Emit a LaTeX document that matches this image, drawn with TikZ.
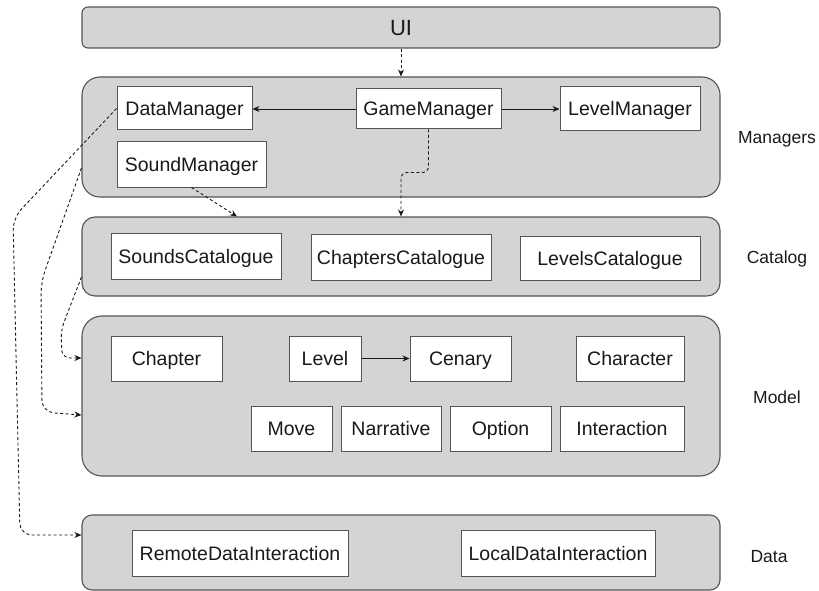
\documentclass[tikz,border=0pt]{standalone}
\usepackage{fontspec}
\setmainfont{Liberation Sans}
\usetikzlibrary{arrows.meta,calc}
\definecolor{layerfill}{RGB}{212,212,212}
\definecolor{edgegray}{RGB}{85,85,85}
\definecolor{inkgray}{RGB}{25,25,25}

\begin{document}
\begin{tikzpicture}[x=1pt,y=-1pt,
  layer/.style={draw=edgegray, fill=layerfill, line width=1.1pt, minimum width=638pt, inner sep=0pt},
  comp/.style={draw=edgegray, fill=white, line width=1pt, inner sep=0pt, text=inkgray,
    font=\fontsize{19.5}{21}\selectfont, text height=14pt, text depth=0pt},
  tag/.style={text=inkgray, inner sep=0pt, font=\fontsize{17.5}{20}\selectfont, text height=12.5pt, text depth=0pt},
  link/.style={draw=inkgray, line width=0.9pt, -{Stealth[length=7pt,width=6pt]}},
  deplink/.style={link, dash pattern=on 3pt off 2.5pt},
]
\useasboundingbox (0,0) rectangle (819,591);

% layers
\node[layer, rounded corners=6pt, minimum height=41pt, text=inkgray,
      font=\fontsize{22}{24}\selectfont, text height=15.8pt, text depth=0pt] (ui) at (401,27.5) {UI};
\node[layer, rounded corners=18pt, minimum height=120pt] (mgr) at (401,137) {};
\node[layer, rounded corners=13pt, minimum height=79pt] (cat) at (401,256.5) {};
\node[layer, rounded corners=20pt, minimum height=160pt] (model) at (401,396) {};
\node[layer, rounded corners=10pt, minimum height=75pt] (data) at (401,552.5) {};

% layer captions
\node[tag] (tmgr) at (777,137.5) {Managers};
\node[tag] (tcat) at (777,257) {Catalog};
\node[tag] (tmodel) at (777,397) {Model};
\node[tag] (tdata) at (769,556) {Data};

% managers
\node[comp, minimum width=135pt, minimum height=43pt] (dm) at (184.5,108.5) {DataManager};
\node[comp, minimum width=149pt, minimum height=45pt] (sm) at (191.5,164.5) {SoundManager};
\node[comp, minimum width=145pt, minimum height=40pt] (gm) at (428.5,109) {GameManager};
\node[comp, minimum width=140pt, minimum height=44pt] (lm) at (630,109) {LevelManager};

% catalogues
\node[comp, minimum width=170pt, minimum height=46pt] (sc) at (196,256) {SoundsCatalogue};
\node[comp, minimum width=180pt, minimum height=46pt] (cc) at (401,257) {ChaptersCatalogue};
\node[comp, minimum width=180pt, minimum height=44pt] (lc) at (610,258) {LevelsCatalogue};

% model
\node[comp, minimum width=111pt, minimum height=45pt] (chap) at (166.5,358.5) {Chapter};
\node[comp, minimum width=72pt, minimum height=45pt] (lvl) at (325,358.5) {Level};
\node[comp, minimum width=101pt, minimum height=45pt] (cen) at (460.5,358.5) {Cenary};
\node[comp, minimum width=108pt, minimum height=45pt] (chr) at (630,358.5) {Character};
\node[comp, minimum width=81pt, minimum height=45pt] (mv) at (291.5,428.5) {Move};
\node[comp, minimum width=100pt, minimum height=45pt] (nar) at (391,428.5) {Narrative};
\node[comp, minimum width=101pt, minimum height=45pt] (opt) at (500.5,428.5) {Option};
\node[comp, minimum width=124pt, minimum height=45pt] (inter) at (622,428.5) {Interaction};

% data
\node[comp, minimum width=216pt, minimum height=46pt] (rdi) at (240,553) {RemoteDataInteraction};
\node[comp, minimum width=194pt, minimum height=46pt] (ldi) at (558,553) {LocalDataInteraction};

% connectors
\draw[deplink] (ui.south) -- (mgr.north);
\draw[link] (gm.west) -- (gm.west -| dm.east);
\draw[link] (gm.east) -- (lm.west);
\draw[link] (lvl.east) -- (cen.west);
\draw[deplink, rounded corners=6pt] (gm.south) -- ++(0,43) -| (cat.north);
\draw[deplink] (sm.south) -- (cat.north -| 237,0);
\draw[deplink, rounded corners=12pt] (dm.west) -- (13,218) -- (20,535) -- (data.west |- 0,535);
\draw[deplink, rounded corners=12pt] (mgr.west |- 0,168) -- (41,282) -- (42,412) -- (model.west |- 0,415);
\draw[deplink, rounded corners=8pt] (cat.west |- 0,277) -- (61,330) -- (62,358) -- (model.west |- 0,358);
\end{tikzpicture}
\end{document}
